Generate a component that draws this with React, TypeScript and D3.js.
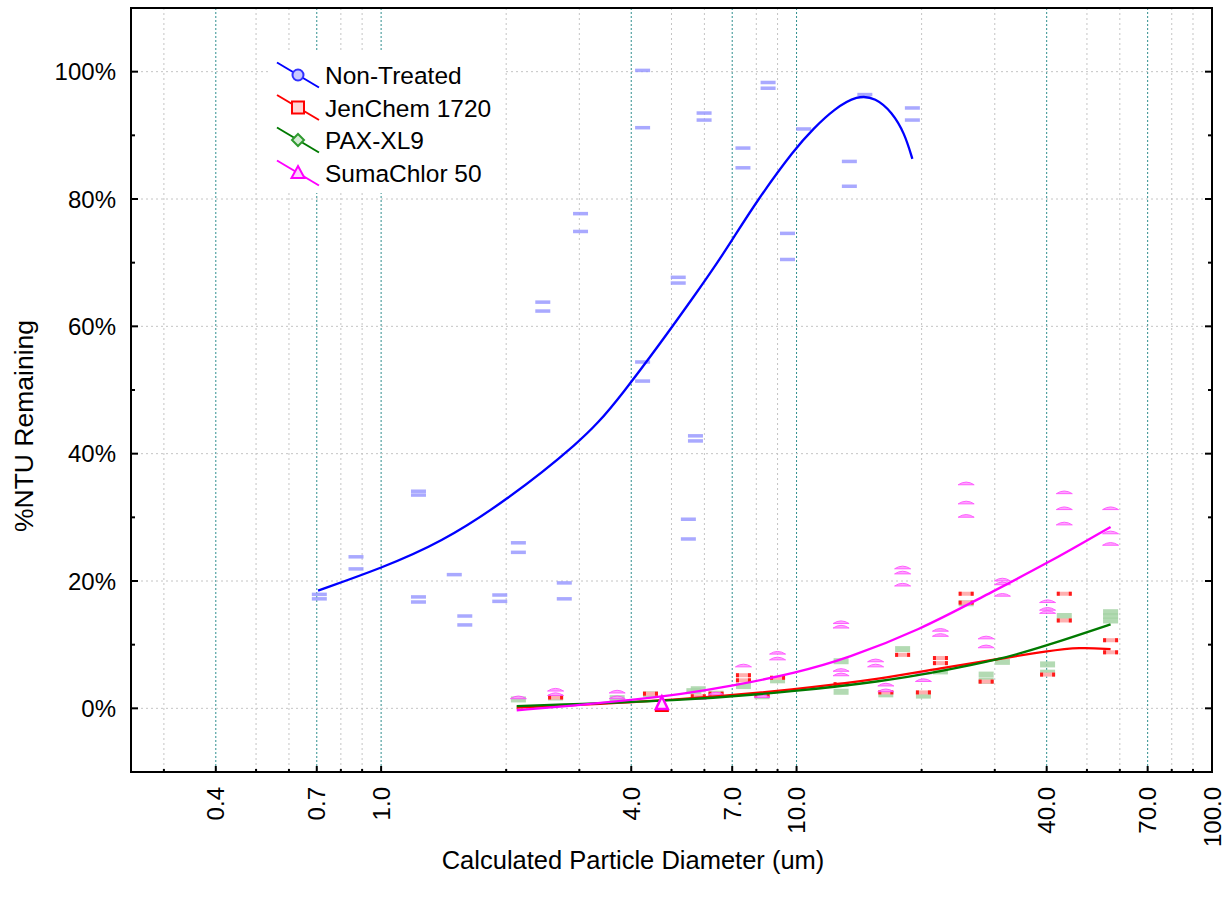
import React from "react";
import * as d3 from "d3";

const W = 1231;
const H = 905;
const FONT = "'Liberation Sans', Arial, Helvetica, sans-serif";

// ---- axis ticks ----
const xLabelTicks = [0.4, 0.7, 1, 4, 7, 10, 40, 70, 100];
const xLabelTexts = ["0.4", "0.7", "1.0", "4.0", "7.0", "10.0", "40.0", "70.0", "100.0"];
const xMinorTicks = [0.3, 0.5, 0.6, 0.8, 0.9, 2, 3, 5, 6, 8, 9, 20, 30, 50, 60, 80, 90];
const yMajorTicks = [0, 20, 40, 60, 80, 100];
const yMinorTicks = [10, 30, 50, 70, 90];

// ---- series ----
const seriesNames = ["Non-Treated", "JenChem 1720", "PAX-XL9", "SumaChlor 50"];
const seriesColors = ["#0000ff", "#ff0000", "#007a00", "#ff00ff"];

// scatter points [diameter um, % remaining]
const nonTreatedPts: [number, number][] = [
  [0.71, 17.9], [0.71, 17.2], [0.87, 23.8], [0.87, 21.9], [1.23, 34.1], [1.23, 33.5],
  [1.23, 17.5], [1.23, 16.7], [1.5, 21.0], [1.59, 14.5], [1.59, 13.1], [1.93, 17.8],
  [1.93, 16.8], [2.14, 26.0], [2.14, 24.5], [2.76, 19.7], [2.76, 17.2], [2.45, 63.8],
  [2.45, 62.4], [3.02, 77.7], [3.02, 74.9], [4.26, 100.2], [4.26, 91.2], [4.26, 54.4],
  [4.26, 51.4], [5.19, 67.7], [5.19, 66.8], [5.49, 29.7], [5.49, 26.6], [5.99, 93.5],
  [5.99, 92.4], [5.71, 42.8], [5.71, 42.0], [7.43, 88.0], [7.43, 84.9], [8.54, 98.3],
  [8.54, 97.4], [9.51, 74.6], [9.51, 70.5], [10.4, 91.0], [13.4, 85.9], [13.4, 82.0],
  [14.6, 96.4], [19.0, 94.3], [19.0, 92.4],
];
const jenChemPts: [number, number][] = [
  [2.63, 1.7], [4.45, 2.3], [5.8, 1.9], [6.4, 2.3], [7.45, 5.2], [7.45, 4.4], [9.0, 4.8],
  [12.8, 3.8], [16.4, 2.5], [18.0, 8.4], [20.2, 2.5], [22.2, 7.9], [22.2, 7.1],
  [25.6, 18.0], [25.6, 16.6], [28.6, 4.2], [40.2, 5.3], [44.1, 18.0], [44.1, 13.8],
  [57, 10.7], [57, 8.8], [8.26, 2.0],
];
const paxPts: [number, number][] = [
  [2.14, 1.4], [2.63, 1.7], [3.7, 1.6], [4.45, 2.2], [5.66, 2.7], [5.8, 3.0], [6.4, 2.3],
  [7.45, 3.5], [8.26, 1.9], [9.0, 4.4], [12.8, 7.4], [12.8, 2.6], [16.4, 2.2], [18.0, 9.3],
  [20.2, 2.0], [22.2, 5.8], [25.6, 16.5], [28.6, 5.3], [28.6, 4.3], [31.3, 7.3],
  [40.2, 6.9], [40.2, 5.6], [44.1, 14.5], [57, 15.1], [57, 14.5], [57, 13.8],
];
const sumaPts: [number, number][] = [
  [2.14, 1.8], [2.63, 3.0], [2.63, 2.3], [3.7, 2.7], [3.7, 1.8], [5.8, 1.7], [6.4, 2.4],
  [7.45, 6.8], [8.26, 2.0], [9.0, 8.8], [9.0, 7.9], [12.8, 13.6], [12.8, 12.9],
  [12.8, 6.1], [12.8, 5.4], [15.5, 7.6], [15.5, 6.8], [16.4, 3.8], [16.4, 2.9],
  [18.0, 22.2], [18.0, 21.4], [18.0, 19.5], [20.2, 5.7], [20.2, 4.5], [22.2, 12.4],
  [22.2, 11.6], [25.6, 35.4], [25.6, 32.4], [25.6, 30.3], [28.6, 11.2], [28.6, 9.8],
  [31.3, 20.3], [31.3, 19.7], [31.3, 17.9], [40.2, 16.9], [40.2, 15.7], [40.2, 15.2],
  [44.1, 34.0], [44.1, 31.5], [44.1, 29.1], [57, 31.5], [57, 27.7], [57, 25.9],
];
const sumaHighlight: [number, number][] = [[4.74, 0.6]];

// fitted curves
const nonTreatedFit: [number, number][] = [
  [0.705, 18.5], [1.0, 22.0], [1.39, 26.0], [2.0, 32.6], [3.01, 41.8], [3.66, 47.6],
  [6.08, 67.4], [6.99, 73.5], [8.04, 79.8], [9.94, 88.0], [10.96, 91.0], [12.3, 94.1],
  [14.0, 96.3], [15.5, 95.9], [17.0, 93.6], [18.2, 90.3], [19.0, 86.3],
];
const jenChemFit: [number, number][] = [
  [2.12, 0.1], [5.25, 1.3], [10.06, 3.0], [15.9, 4.6], [22.2, 6.3], [31, 7.8],
  [40.2, 9.0], [48, 9.6], [57, 9.3],
];
const paxFit: [number, number][] = [
  [2.12, 0.36], [5.25, 1.15], [10.06, 2.7], [15.9, 4.2], [22.2, 5.8], [31, 7.7],
  [40.2, 9.9], [57, 13.2],
];
const sumaFit: [number, number][] = [
  [2.12, -0.3], [3.0, 0.5], [4.0, 1.3], [5.26, 2.2], [7.0, 3.5], [10.0, 5.6],
  [13.2, 7.8], [19.9, 12.4], [27.8, 17.4], [40.2, 22.8], [57, 28.5],
];

const xTitle = "Calculated Particle Diameter (um)";
const yTitle = "%NTU Remaining";

export default function App() {
  const left = 131, right = 1212, top = 8, bottom = 772;
  const x = d3.scaleLog().domain([0.25, 100]).range([left, right]);
  const y = d3.scaleLinear().domain([-10, 110]).range([bottom, top]);
  const line = d3
    .line<[number, number]>()
    .x((d) => x(d[0]))
    .y((d) => y(d[1]))
    .curve(d3.curveBasis);

  const fits = [nonTreatedFit, jenChemFit, paxFit, sumaFit];

  const blueMark = (d: [number, number], i: number) => (
    <rect key={"b" + i} x={x(d[0]) - 7.5} y={y(d[1]) - 1.75} width={15} height={3.5}
      fill="#9494ff" opacity={0.8} />
  );
  const greenMark = (d: [number, number], i: number) => (
    <rect key={"g" + i} x={x(d[0]) - 7.5} y={y(d[1]) - 3} width={15} height={6}
      fill="#a6d3a6" opacity={0.85} />
  );
  const redMark = (d: [number, number], i: number) => {
    const cx = x(d[0]), cy = y(d[1]);
    return (
      <g key={"r" + i}>
        <rect x={cx - 7.5} y={cy - 2} width={15} height={4} fill="#ffb0b0" />
        <rect x={cx - 7.5} y={cy - 2} width={3} height={4} fill="#ff1a1a" />
        <rect x={cx + 4.5} y={cy - 2} width={3} height={4} fill="#ff1a1a" />
      </g>
    );
  };
  const magMark = (d: [number, number], i: number) => {
    const cx = x(d[0]), cy = y(d[1]);
    return (
      <path key={"m" + i}
        d={`M${cx - 8},${cy + 1.8} Q${cx},${cy - 3.5} ${cx + 8},${cy + 1.8} Z`}
        fill="#ff9cff" stroke="#ff4dff" strokeWidth={1} opacity={0.9} />
    );
  };

  const legendRows = [75, 107.5, 140, 173];
  const legendCx = 298;

  const legendMarker = (i: number, cy: number) => {
    const c = seriesColors[i];
    if (i === 0) return <circle cx={legendCx} cy={cy} r={5.5} fill="#c8c8ff" stroke="#3030ff" strokeWidth={2} />;
    if (i === 1) return <rect x={legendCx - 6} y={cy - 6} width={12} height={12} fill="#ffd6d6" stroke={c} strokeWidth={2} />;
    if (i === 2)
      return <path d={`M${legendCx},${cy - 6} L${legendCx + 6},${cy} L${legendCx},${cy + 6} L${legendCx - 6},${cy} Z`}
        fill="#d6ecd6" stroke="#2f9a2f" strokeWidth={2} />;
    return <path d={`M${legendCx},${cy - 7} L${legendCx + 6.5},${cy + 5} L${legendCx - 6.5},${cy + 5} Z`}
      fill="#ffd0ff" stroke={c} strokeWidth={2} />;
  };

  return (
    <svg width={W} height={H} style={{ position: "absolute", left: 0, top: 0, background: "#fff" }}
      fontFamily={FONT}>
      <rect x={0} y={0} width={W} height={H} fill="#fff" />
      {/* vertical gridlines */}
      {xMinorTicks.map((t) => (
        <line key={"gx" + t} x1={x(t)} x2={x(t)} y1={top} y2={bottom} stroke="#c4c4c4"
          strokeWidth={1} strokeDasharray="2,3" />
      ))}
      {xLabelTicks.filter((t) => t < 100).map((t) => (
        <line key={"gX" + t} x1={x(t)} x2={x(t)} y1={top} y2={bottom} stroke="#2f8f8f"
          strokeWidth={1} strokeDasharray="2,2" />
      ))}
      {/* horizontal gridlines */}
      {yMajorTicks.map((t) => (
        <line key={"gy" + t} x1={left} x2={right} y1={y(t)} y2={y(t)} stroke="#c4c4c4"
          strokeWidth={1} strokeDasharray="2,3" />
      ))}

      {/* legend background */}
      <rect x={268} y={52} width={237} height={141} fill="#fff" />

      {/* scatter */}
      <g>{paxPts.map(greenMark)}</g>
      <g>{jenChemPts.map(redMark)}</g>
      <g>{sumaPts.map(magMark)}</g>
      <g>{nonTreatedPts.map(blueMark)}</g>

      {/* fits */}
      {fits.map((f, i) => (
        <path key={"fit" + i} d={line(f) || ""} fill="none" stroke={seriesColors[i]}
          strokeWidth={2.3} />
      ))}

      {/* highlighted SumaChlor marker */}
      {sumaHighlight.map((d, i) => {
        const cx = x(d[0]), cy = y(d[1]);
        return (
          <g key={"hl" + i}>
            <rect x={cx - 7} y={cy + 5} width={14} height={2.5} fill="#ff0000" />
            <path d={`M${cx},${cy - 8} L${cx + 6},${cy + 4.5} L${cx - 6},${cy + 4.5} Z`}
              fill="#ffe6ff" stroke="#ff00ff" strokeWidth={2.5} />
          </g>
        );
      })}

      {/* frame */}
      <rect x={left} y={top} width={right - left} height={bottom - top} fill="none"
        stroke="#000" strokeWidth={2} />

      {/* y ticks */}
      {yMajorTicks.map((t) => (
        <g key={"yt" + t}>
          <line x1={left} x2={left + 7} y1={y(t)} y2={y(t)} stroke="#000" strokeWidth={2} />
          <line x1={right} x2={right - 7} y1={y(t)} y2={y(t)} stroke="#000" strokeWidth={2} />
          <text x={116} y={y(t) + 8.5} textAnchor="end" fontSize={24} fill="#000">
            {t + "%"}
          </text>
        </g>
      ))}
      {yMinorTicks.map((t) => (
        <g key={"ym" + t}>
          <line x1={left} x2={left + 4} y1={y(t)} y2={y(t)} stroke="#000" strokeWidth={2} />
          <line x1={right} x2={right - 4} y1={y(t)} y2={y(t)} stroke="#000" strokeWidth={2} />
        </g>
      ))}

      {/* x ticks */}
      {xLabelTicks.map((t, i) => (
        <g key={"xt" + t}>
          <line x1={x(t)} x2={x(t)} y1={bottom} y2={bottom - 6} stroke="#000" strokeWidth={2} />
          <text transform={`translate(${x(t) + 8.5},${bottom + 15}) rotate(-90)`}
            textAnchor="end" fontSize={24} fill="#000">
            {xLabelTexts[i]}
          </text>
        </g>
      ))}
      {xMinorTicks.map((t) => (
        <line key={"xm" + t} x1={x(t)} x2={x(t)} y1={bottom} y2={bottom - 3} stroke="#000"
          strokeWidth={2} />
      ))}

      {/* titles */}
      <text x={633} y={869} textAnchor="middle" fontSize={25.5} fill="#000">
        {xTitle}
      </text>
      <text transform={`translate(33,426) rotate(-90)`} textAnchor="middle" fontSize={26.5}
        fill="#000">
        {yTitle}
      </text>

      {/* legend */}
      {seriesNames.map((n, i) => {
        const cy = legendRows[i];
        return (
          <g key={"lg" + i}>
            <line x1={legendCx - 21} y1={cy - 12.5} x2={legendCx + 21} y2={cy + 12.5}
              stroke={seriesColors[i]} strokeWidth={2} />
            {legendMarker(i, cy)}
            <text x={325} y={cy + 9} fontSize={24.5} fill="#000">{n}</text>
          </g>
        );
      })}
    </svg>
  );
}
